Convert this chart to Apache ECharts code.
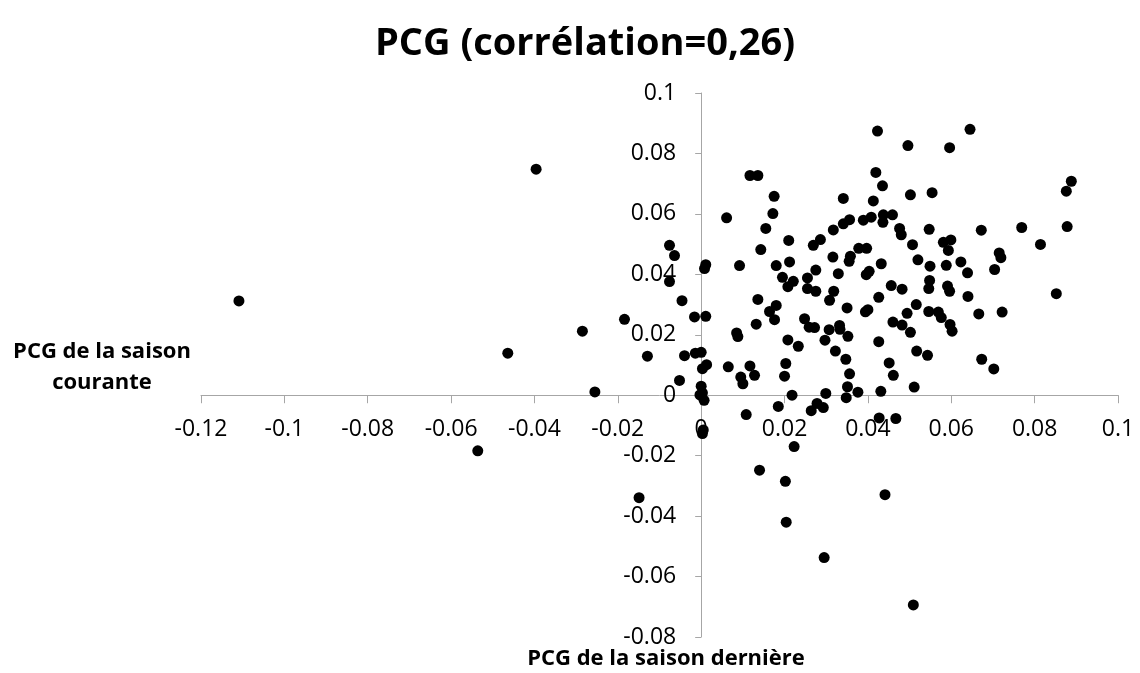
<!DOCTYPE html>
<html>
<head>
<meta charset="utf-8">
<script src="https://cdn.jsdelivr.net/npm/echarts@6/dist/echarts.min.js"></script>
<style>
  html, body { margin: 0; padding: 0; background: #fff; }
  #chart { width: 1140px; height: 673px; }
</style>
</head>
<body>
<div id="chart"></div>
<script>
// PCG de la saison dernière (x)
var lastSeason = [
  0.0423, 0.0496, 0.0117, 0.0136, 0.0419, 0.0435, 0.0175, 0.0341, 0.0413, 0.0502,
  0.0061, 0.0172, 0.0155, 0.0437, 0.0459, 0.0436, 0.0341, 0.0356, 0.0389, 0.0408,
  0.0476, 0.0480, 0.0317, 0.0210, 0.0269, 0.0286, 0.0143, 0.0507, 0.0378, 0.0397,
  0.0316, 0.0358, 0.0212, 0.0520,
  0.0645, 0.0596, 0.0888, 0.0876, 0.0554, 0.0547, 0.0672, 0.0769, 0.0878, 0.0581,
  0.0599, 0.0593, 0.0715, 0.0719, 0.0814, 0.0623,
  0.0011, 0.0008, 0.0092, 0.0180, 0.0275, 0.0355, 0.0432, 0.0195, 0.0221, 0.0208,
  0.0255, 0.0255, 0.0275, 0.0329, 0.0396, 0.0403, 0.0456, 0.0482, 0.0318, 0.0308,
  0.0426, 0.0136, 0.0180, 0.0164, 0.0176, 0.0011, 0.0132, 0.0350, 0.0394, 0.0400,
  0.0516, 0.0494, 0.0460, 0.0482, 0.0502, 0.0248, 0.0259, 0.0272, 0.0307, 0.0332,
  0.0333, 0.0085, 0.0088, 0.0208, 0.0233, 0.0297, 0.0352, 0.0426, 0.0517, 0.0322,
  0.0347, 0.0451, 0.0461, 0.0000, 0.0013, 0.0003, 0.0065, 0.0117, 0.0128, 0.0095,
  0.0100, 0.0203, 0.0200, 0.0356, 0.0351, 0.0376, 0.0431, 0.0511, 0.0000, 0.0003,
  0.0007, 0.0218, 0.0299, 0.0348, 0.0185, 0.0278, 0.0293, 0.0264,
  0.0549, 0.0588, 0.0639, 0.0704, 0.0548, 0.0546, 0.0591, 0.0596, 0.0640, 0.0852,
  0.0546, 0.0569, 0.0576, 0.0666, 0.0722, 0.0597, 0.0602, 0.0543, 0.0673, 0.0702,
  -0.0076, -0.0064, -0.0076, -0.0046, -0.0184, -0.0285, -0.0016, -0.0129, -0.0040, -0.0014,
  -0.0052, -0.0255, -0.0003, 0.0003, 0.0005,
  0.0108, 0.0427, 0.0467, 0.0223, 0.0140, 0.0202, 0.0441, 0.0204,
  -0.0149, 0.0295, 0.0509,
  -0.1109, -0.0396, -0.0464, -0.0536
];

// PCG de la saison courante (y)
var thisSeason = [
  0.0874, 0.0826, 0.0727, 0.0727, 0.0737, 0.0693, 0.0658, 0.0651, 0.0643, 0.0663,
  0.0587, 0.0601, 0.0552, 0.0597, 0.0597, 0.0572, 0.0567, 0.0581, 0.0579, 0.0589,
  0.0552, 0.0531, 0.0547, 0.0512, 0.0496, 0.0515, 0.0482, 0.0498, 0.0486, 0.0486,
  0.0457, 0.0460, 0.0441, 0.0448,
  0.0880, 0.0819, 0.0708, 0.0675, 0.0670, 0.0549, 0.0546, 0.0555, 0.0558, 0.0506,
  0.0514, 0.0479, 0.0471, 0.0455, 0.0499, 0.0441,
  0.0432, 0.0419, 0.0429, 0.0429, 0.0414, 0.0443, 0.0435, 0.0390, 0.0377, 0.0359,
  0.0388, 0.0353, 0.0344, 0.0402, 0.0399, 0.0410, 0.0363, 0.0351, 0.0344, 0.0314,
  0.0324, 0.0317, 0.0297, 0.0277, 0.0250, 0.0261, 0.0235, 0.0289, 0.0276, 0.0283,
  0.0300, 0.0271, 0.0242, 0.0232, 0.0208, 0.0253, 0.0225, 0.0224, 0.0217, 0.0231,
  0.0218, 0.0206, 0.0194, 0.0183, 0.0162, 0.0182, 0.0195, 0.0177, 0.0146, 0.0146,
  0.0119, 0.0107, 0.0066, 0.0142, 0.0101, 0.0088, 0.0094, 0.0097, 0.0066, 0.0060,
  0.0038, 0.0105, 0.0063, 0.0071, 0.0028, 0.0010, 0.0013, 0.0027, 0.0030, 0.0008,
  -0.0017, 0.0000, 0.0006, -0.0008, -0.0037, -0.0027, -0.0041, -0.0051,
  0.0427, 0.0430, 0.0405, 0.0416, 0.0380, 0.0353, 0.0361, 0.0344, 0.0327, 0.0336,
  0.0277, 0.0275, 0.0257, 0.0269, 0.0275, 0.0234, 0.0212, 0.0132, 0.0119, 0.0087,
  0.0496, 0.0462, 0.0376, 0.0313, 0.0251, 0.0212, 0.0259, 0.0129, 0.0131, 0.0139,
  0.0049, 0.0011, 0.0001, -0.0127, -0.0115,
  -0.0064, -0.0075, -0.0077, -0.0170, -0.0248, -0.0285, -0.0329, -0.0420,
  -0.0339, -0.0537, -0.0694,
  0.0312, 0.0748, 0.0139, -0.0184
];

var titleText = "PCG (corrélation=0,26)";
var xName = "PCG de la saison dernière";
var yName = "PCG de la saison\ncourante";

var points = lastSeason.map(function (x, i) { return [x, thisSeason[i]]; });

var myChart = echarts.init(document.getElementById("chart"));

// grid box: x from 201 to 1118, y from 93 to 637
var gridLeft = 201, gridRight = 22, gridTop = 93, gridBottom = 36;
var plotW = 1140 - gridLeft - gridRight;
var plotH = 673 - gridTop - gridBottom;
// axes cross at 0, so shift them in from the grid edges
var xAxisOffset = -plotH * (0.08 / 0.18);
var yAxisOffset = -plotW * (0.12 / 0.22);

var lineStyle = { color: "#a6a6a6", width: 1 };
var tickFmt = function (v) { return String(+v.toFixed(2)); };

myChart.setOption({
  animation: false,
  grid: {
    left: gridLeft, right: gridRight, top: gridTop, bottom: gridBottom,
    outerBoundsMode: "none"
  },
  graphic: [
    {
      type: "text", x: 585, y: 44,
      style: { text: titleText, font: "bold 38px 'Open Sans'", fill: "#000",
        textAlign: "center", textVerticalAlign: "middle" }
    },
    {
      type: "text", x: 666, y: 659,
      style: { text: xName, font: "bold 22px 'Open Sans'", fill: "#000",
        textAlign: "center", textVerticalAlign: "middle" }
    },
    {
      type: "text", x: 102, y: 367,
      style: { text: yName, font: "bold 22px 'Open Sans'", fill: "#000", lineHeight: 31,
        textAlign: "center", textVerticalAlign: "middle" }
    }
  ],
  xAxis: {
    type: "value",
    min: -0.12,
    max: 0.1,
    interval: 0.02,
    position: "bottom",
    offset: xAxisOffset,
    axisLine: { onZero: false, lineStyle: lineStyle },
    axisTick: { show: true, length: 8, lineStyle: lineStyle },
    axisLabel: {
      margin: 23,
      color: "#000",
      fontFamily: "Open Sans",
      fontSize: 23,
      formatter: tickFmt
    },
    splitLine: { show: false }
  },
  yAxis: {
    type: "value",
    min: -0.08,
    max: 0.1,
    interval: 0.02,
    position: "left",
    offset: yAxisOffset,
    axisLine: { onZero: false, lineStyle: lineStyle },
    axisTick: { show: true, length: 6, lineStyle: lineStyle },
    axisLabel: {
      margin: 25,
      color: "#000",
      fontFamily: "Open Sans",
      fontSize: 23,
      formatter: tickFmt
    },
    splitLine: { show: false }
  },
  series: [
    {
      type: "scatter",
      data: points,
      symbol: "circle",
      symbolSize: 11,
      itemStyle: { color: "#000", opacity: 1 }
    }
  ]
});
</script>
</body>
</html>
